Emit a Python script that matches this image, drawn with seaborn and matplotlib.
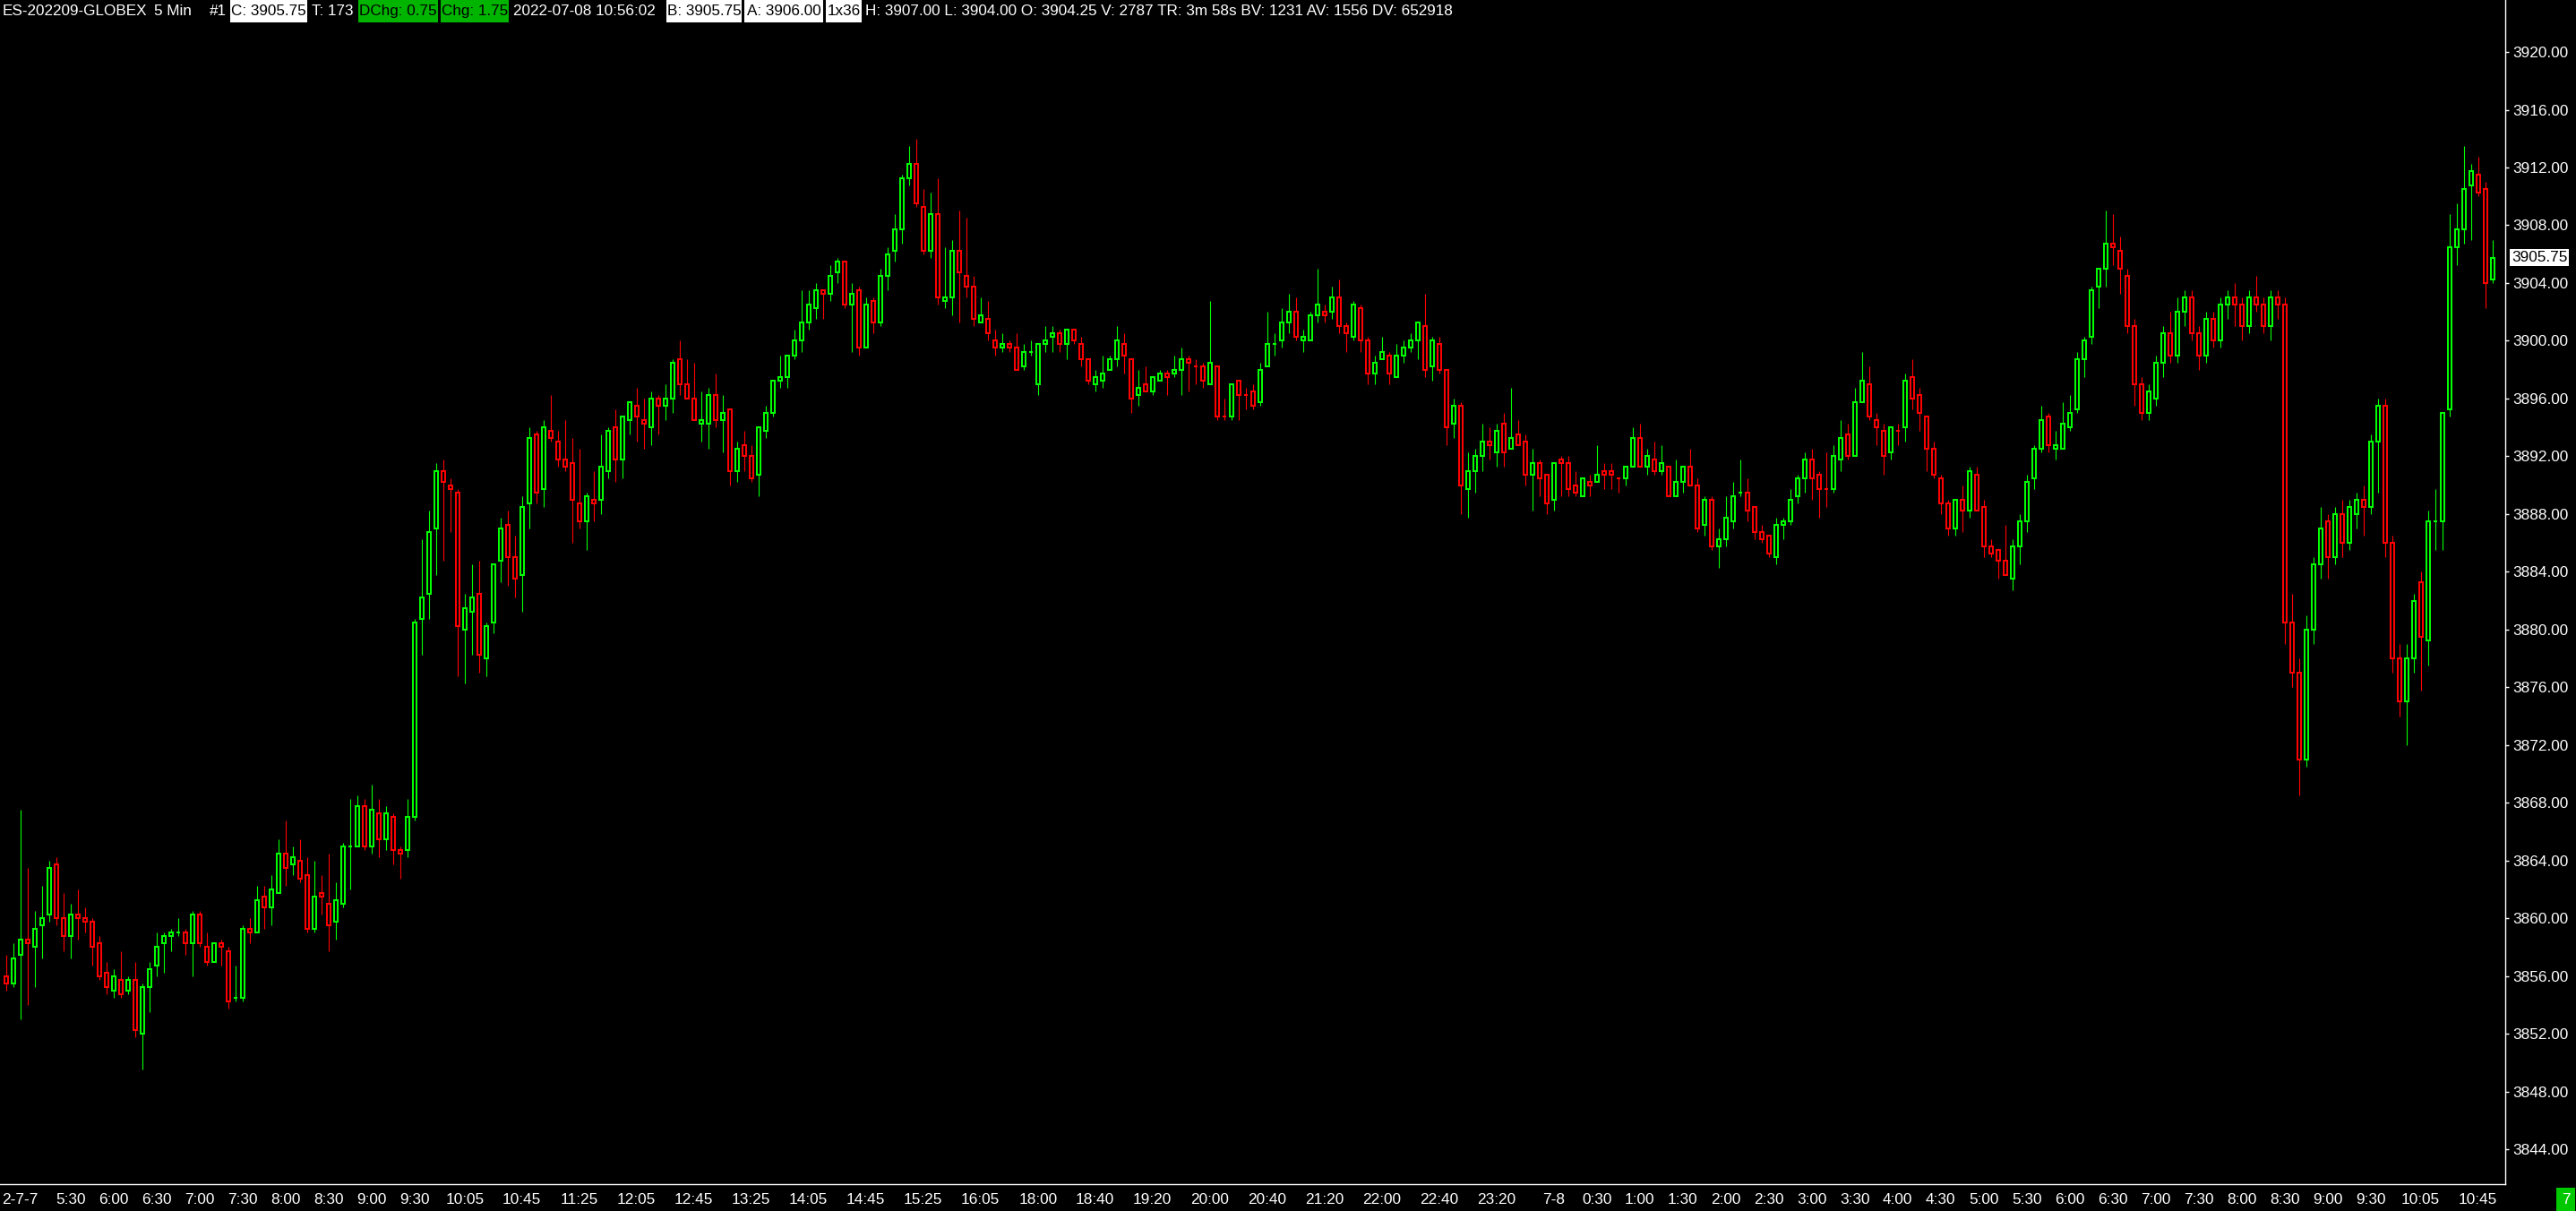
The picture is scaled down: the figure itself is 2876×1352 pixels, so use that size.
import matplotlib
matplotlib.use("Agg")
import matplotlib.pyplot as plt
import matplotlib.transforms as mtransforms
from matplotlib.patches import Rectangle
import numpy as np
import pandas as pd
import seaborn as sns

# ES 5 min bars, 2022-07-07 04:45 -> 2022-07-08 10:55
opens = [
    3856.0, 3855.5, 3857.5, 3858.5, 3858.0, 3859.5, 3860.25, 3863.75, 3860.0, 3858.75,
    3860.25, 3860.0, 3859.75, 3858.25, 3856.25, 3855.0, 3855.75, 3855.0, 3855.75, 3852.0,
    3855.25, 3856.75, 3858.25, 3858.75, 3859.0, 3859.0, 3858.25, 3860.25, 3858.0, 3857.0,
    3858.25, 3857.75, 3854.5, 3854.5, 3859.25, 3859.0, 3861.5, 3860.75, 3861.75, 3864.5,
    3863.75, 3864.0, 3863.0, 3859.25, 3861.75, 3861.0, 3859.75, 3861.0, 3865.0, 3865.0,
    3867.75, 3865.0, 3867.25, 3865.5, 3867.0, 3864.75, 3864.75, 3867.0, 3880.75, 3882.5,
    3887.0, 3891.0, 3890.0, 3889.5, 3880.0, 3881.25, 3882.5, 3878.0, 3880.5, 3884.75,
    3887.25, 3885.0, 3883.75, 3888.75, 3893.5, 3889.75, 3893.75, 3893.0, 3891.75, 3891.5,
    3888.75, 3887.5, 3889.0, 3889.0, 3891.0, 3894.0, 3891.75, 3894.5, 3895.5, 3894.5,
    3894.0, 3896.0, 3895.5, 3896.0, 3898.75, 3897.0, 3896.0, 3894.25, 3894.25, 3896.25,
    3894.5, 3895.25, 3891.0, 3892.75, 3892.0, 3890.75, 3893.75, 3895.0, 3897.25, 3897.5,
    3899.0, 3900.0, 3901.25, 3902.25, 3903.5, 3903.25, 3904.75, 3905.5, 3902.5, 3903.5,
    3899.5, 3902.75, 3901.25, 3904.5, 3906.25, 3907.75, 3911.25, 3912.25, 3909.25, 3906.25,
    3908.75, 3902.75, 3903.0, 3906.25, 3904.5, 3903.75, 3901.25, 3901.5, 3900.0, 3899.5,
    3899.75, 3899.5, 3898.25, 3899.25, 3897.0, 3899.75, 3900.25, 3900.5, 3899.75, 3900.75,
    3899.75, 3898.75, 3897.0, 3897.25, 3898.0, 3898.75, 3899.75, 3898.75, 3896.25, 3897.0,
    3896.5, 3897.25, 3897.75, 3897.75, 3898.0, 3898.75, 3898.25, 3898.25, 3897.0, 3898.25,
    3894.75, 3894.75, 3897.25, 3896.25, 3896.5, 3895.75, 3898.25, 3899.75, 3900.0, 3901.25,
    3902.0, 3900.0, 3900.0, 3901.75, 3902.0, 3902.0, 3903.0, 3901.0, 3900.25, 3902.25,
    3900.0, 3897.75, 3898.75, 3899.0, 3897.5, 3899.0, 3899.5, 3900.0, 3901.0, 3898.25,
    3899.75, 3898.0, 3894.25, 3895.5, 3889.75, 3891.0, 3892.0, 3893.0, 3892.25, 3894.25,
    3892.5, 3893.5, 3893.0, 3890.75, 3891.5, 3890.75, 3889.0, 3891.75, 3891.5, 3890.0,
    3889.25, 3890.25, 3890.25, 3891.0, 3891.0, 3890.5, 3890.5, 3891.25, 3893.25, 3891.25,
    3891.75, 3891.0, 3891.25, 3889.25, 3890.25, 3891.25, 3890.0, 3887.25, 3889.0, 3885.75,
    3886.25, 3887.5, 3889.5, 3889.5, 3888.5, 3886.75, 3886.5, 3885.0, 3887.25, 3887.5,
    3889.25, 3890.5, 3891.75, 3890.75, 3889.75, 3889.75, 3891.75, 3893.5, 3892.0, 3895.75,
    3897.0, 3894.5, 3893.75, 3892.25, 3893.75, 3894.0, 3897.5, 3896.25, 3894.75, 3892.5,
    3890.5, 3888.75, 3887.0, 3889.0, 3888.25, 3890.75, 3888.5, 3885.75, 3885.5, 3884.75,
    3883.5, 3885.75, 3887.5, 3890.5, 3892.5, 3894.75, 3892.5, 3892.5, 3894.0, 3895.25,
    3898.75, 3900.25, 3903.75, 3905.0, 3906.75, 3906.25, 3904.5, 3901.0, 3897.0, 3895.0,
    3896.0, 3898.5, 3900.5, 3899.0, 3902.0, 3903.0, 3900.5, 3899.0, 3901.5, 3900.0,
    3902.5, 3903.0, 3902.5, 3901.0, 3903.0, 3902.5, 3901.0, 3903.0, 3902.5, 3880.5,
    3877.0, 3871.0, 3880.0, 3884.5, 3887.5, 3885.0, 3888.0, 3886.0, 3888.0, 3889.0,
    3888.5, 3893.0, 3895.5, 3886.0, 3878.0, 3875.0, 3878.0, 3883.25, 3879.25, 3887.5,
    3887.5, 3895.25, 3906.5, 3907.75, 3910.75, 3911.5, 3910.5, 3904.25,
]
highs = [
    3857.5, 3858.25, 3867.5, 3863.5, 3860.5, 3862.25, 3864.0, 3864.25, 3861.75, 3861.0,
    3862.0, 3860.75, 3860.0, 3858.75, 3857.0, 3856.5, 3857.75, 3856.0, 3857.0, 3855.5,
    3857.0, 3859.0, 3859.0, 3859.25, 3860.0, 3859.25, 3860.5, 3860.5, 3859.0, 3858.25,
    3858.5, 3858.0, 3856.75, 3859.5, 3860.0, 3862.25, 3862.25, 3863.0, 3865.5, 3866.75,
    3865.0, 3865.5, 3864.25, 3864.0, 3863.0, 3864.5, 3862.5, 3865.25, 3868.25, 3868.5,
    3868.25, 3869.25, 3868.25, 3867.75, 3867.25, 3865.0, 3868.25, 3880.75, 3886.25, 3888.25,
    3891.5, 3891.75, 3890.5, 3889.75, 3882.5, 3884.5, 3884.75, 3880.5, 3884.5, 3887.75,
    3888.25, 3886.5, 3889.25, 3894.0, 3893.75, 3894.5, 3896.25, 3893.75, 3894.5, 3893.25,
    3892.5, 3889.5, 3891.0, 3893.5, 3894.0, 3895.25, 3894.75, 3895.75, 3896.75, 3896.0,
    3896.5, 3896.25, 3897.0, 3898.75, 3900.0, 3898.75, 3898.5, 3896.5, 3896.75, 3897.75,
    3896.25, 3895.25, 3893.0, 3893.75, 3892.75, 3894.0, 3895.5, 3897.25, 3899.0, 3899.0,
    3900.75, 3903.5, 3903.5, 3904.0, 3903.5, 3905.25, 3905.75, 3905.5, 3904.0, 3903.75,
    3903.0, 3903.0, 3905.0, 3906.5, 3908.75, 3911.5, 3913.5, 3914.0, 3910.5, 3910.25,
    3911.25, 3906.5, 3907.0, 3909.0, 3908.5, 3904.5, 3903.0, 3902.75, 3900.75, 3900.5,
    3900.0, 3900.5, 3899.75, 3900.0, 3899.75, 3901.0, 3901.0, 3900.75, 3900.75, 3900.75,
    3900.25, 3898.75, 3898.0, 3899.0, 3899.0, 3901.0, 3900.5, 3898.75, 3898.0, 3898.25,
    3897.5, 3898.0, 3898.0, 3899.0, 3899.5, 3899.0, 3898.75, 3898.5, 3902.75, 3898.25,
    3896.0, 3897.0, 3897.25, 3896.75, 3897.0, 3898.5, 3902.0, 3900.5, 3902.25, 3903.25,
    3903.0, 3900.75, 3902.0, 3905.0, 3902.5, 3903.75, 3904.25, 3901.25, 3902.75, 3902.5,
    3900.25, 3899.0, 3900.25, 3899.25, 3899.75, 3900.0, 3900.5, 3901.25, 3903.25, 3900.25,
    3900.25, 3898.0, 3896.0, 3895.75, 3892.25, 3892.5, 3894.25, 3894.0, 3894.25, 3895.0,
    3896.75, 3894.5, 3893.5, 3892.5, 3891.75, 3890.75, 3891.5, 3892.0, 3892.0, 3891.0,
    3890.5, 3890.75, 3892.75, 3891.5, 3891.5, 3890.5, 3891.25, 3894.0, 3894.25, 3892.5,
    3893.0, 3892.75, 3891.25, 3891.75, 3891.25, 3892.5, 3890.5, 3889.25, 3889.25, 3887.0,
    3889.25, 3890.25, 3891.75, 3890.5, 3888.5, 3887.25, 3886.5, 3887.75, 3887.75, 3889.75,
    3890.75, 3892.25, 3892.5, 3891.0, 3892.25, 3892.75, 3894.5, 3894.25, 3896.75, 3899.25,
    3898.25, 3895.0, 3894.25, 3894.0, 3894.25, 3897.75, 3898.75, 3896.75, 3894.75, 3893.0,
    3890.75, 3889.0, 3889.0, 3890.0, 3891.25, 3891.25, 3889.0, 3886.25, 3885.5, 3887.25,
    3886.25, 3888.0, 3890.75, 3892.75, 3895.5, 3895.0, 3893.75, 3895.75, 3896.25, 3899.25,
    3900.25, 3903.75, 3905.0, 3909.0, 3908.75, 3907.25, 3905.0, 3901.5, 3897.5, 3897.0,
    3899.0, 3901.0, 3902.0, 3903.0, 3903.5, 3903.5, 3901.0, 3902.0, 3902.0, 3903.0,
    3903.5, 3904.0, 3903.0, 3903.5, 3904.5, 3903.0, 3903.5, 3903.5, 3903.0, 3882.5,
    3878.0, 3881.0, 3885.0, 3888.5, 3888.0, 3888.5, 3889.0, 3889.0, 3889.5, 3890.0,
    3893.5, 3896.0, 3896.0, 3886.5, 3879.0, 3879.0, 3882.5, 3884.0, 3888.25, 3889.75,
    3895.0, 3908.75, 3909.5, 3913.5, 3912.25, 3912.75, 3911.0, 3907.0,
]
lows = [
    3855.0, 3855.25, 3853.0, 3854.0, 3855.25, 3857.25, 3859.75, 3859.5, 3857.75, 3857.25,
    3858.5, 3859.0, 3856.75, 3855.75, 3854.75, 3854.5, 3854.5, 3854.75, 3851.75, 3849.5,
    3853.5, 3856.0, 3856.25, 3857.75, 3858.75, 3857.5, 3856.0, 3858.0, 3856.75, 3857.0,
    3856.75, 3853.75, 3854.25, 3854.25, 3858.25, 3859.0, 3859.25, 3859.5, 3861.75, 3862.25,
    3863.0, 3862.5, 3859.0, 3859.0, 3860.25, 3857.75, 3858.5, 3860.75, 3862.0, 3865.0,
    3864.75, 3864.5, 3864.25, 3864.75, 3863.75, 3862.75, 3864.25, 3866.75, 3878.25, 3880.75,
    3883.75, 3884.75, 3886.75, 3876.75, 3876.25, 3878.25, 3877.0, 3876.75, 3879.75, 3883.25,
    3883.0, 3882.25, 3881.25, 3887.0, 3888.75, 3888.5, 3893.0, 3891.25, 3891.0, 3886.0,
    3887.0, 3885.5, 3887.5, 3888.0, 3890.5, 3890.25, 3890.5, 3893.5, 3893.0, 3892.5,
    3892.75, 3893.5, 3894.5, 3895.0, 3896.25, 3896.0, 3894.5, 3893.0, 3892.5, 3894.0,
    3892.25, 3890.0, 3890.25, 3891.0, 3890.25, 3889.25, 3893.25, 3894.75, 3896.75, 3896.75,
    3898.75, 3899.25, 3900.75, 3901.5, 3901.5, 3902.75, 3904.0, 3902.25, 3899.25, 3899.0,
    3899.5, 3900.5, 3901.0, 3903.5, 3905.5, 3906.75, 3910.75, 3909.25, 3906.0, 3905.75,
    3902.5, 3902.25, 3901.75, 3901.25, 3903.0, 3901.0, 3901.25, 3900.0, 3899.0, 3899.25,
    3899.25, 3898.0, 3898.0, 3899.0, 3896.25, 3899.25, 3899.25, 3899.25, 3898.75, 3899.75,
    3898.25, 3897.0, 3896.5, 3896.75, 3898.0, 3898.25, 3897.75, 3895.0, 3895.5, 3896.5,
    3896.25, 3897.25, 3896.25, 3897.5, 3896.25, 3896.5, 3897.0, 3896.75, 3897.0, 3894.5,
    3894.5, 3894.5, 3894.5, 3895.25, 3895.25, 3895.5, 3898.25, 3899.0, 3899.5, 3900.5,
    3900.0, 3899.25, 3900.0, 3901.25, 3901.25, 3901.5, 3900.5, 3899.25, 3900.0, 3899.25,
    3897.0, 3897.0, 3898.75, 3897.0, 3897.5, 3898.5, 3899.25, 3898.75, 3897.5, 3897.25,
    3897.75, 3892.75, 3893.25, 3888.0, 3887.75, 3889.5, 3891.0, 3891.75, 3891.25, 3891.25,
    3892.5, 3892.75, 3890.0, 3888.25, 3889.25, 3888.0, 3888.25, 3889.25, 3889.25, 3889.25,
    3889.25, 3889.25, 3890.25, 3889.75, 3889.75, 3889.5, 3890.0, 3891.25, 3891.25, 3890.75,
    3890.75, 3890.75, 3889.25, 3889.25, 3889.5, 3890.0, 3886.75, 3886.5, 3885.5, 3884.25,
    3885.75, 3887.0, 3889.25, 3887.5, 3886.25, 3886.0, 3885.0, 3884.5, 3886.25, 3887.25,
    3888.75, 3889.5, 3889.0, 3887.75, 3888.5, 3889.5, 3891.0, 3891.75, 3892.0, 3895.75,
    3894.5, 3892.75, 3890.75, 3891.75, 3892.75, 3893.0, 3895.25, 3893.75, 3891.0, 3890.5,
    3888.0, 3886.5, 3886.5, 3886.75, 3887.75, 3888.25, 3885.0, 3885.0, 3883.5, 3883.75,
    3882.75, 3884.5, 3886.75, 3889.75, 3892.25, 3892.25, 3891.75, 3892.5, 3893.75, 3895.0,
    3897.5, 3899.75, 3902.25, 3903.75, 3905.25, 3903.25, 3900.5, 3895.5, 3894.5, 3894.5,
    3895.5, 3897.5, 3898.5, 3898.5, 3901.0, 3900.0, 3898.0, 3898.5, 3899.5, 3899.5,
    3901.5, 3901.0, 3900.0, 3900.5, 3902.0, 3900.5, 3900.0, 3901.5, 3879.0, 3876.0,
    3868.5, 3870.5, 3879.0, 3883.5, 3883.5, 3884.5, 3885.0, 3885.5, 3887.0, 3886.5,
    3888.0, 3889.5, 3885.0, 3877.0, 3874.0, 3872.0, 3877.0, 3875.75, 3877.5, 3885.5,
    3885.5, 3894.75, 3905.25, 3906.75, 3907.0, 3910.0, 3902.25, 3904.0,
]
closes = [
    3855.5, 3857.25, 3858.5, 3858.25, 3859.25, 3860.0, 3863.5, 3860.0, 3858.75, 3860.25,
    3860.0, 3859.75, 3858.0, 3856.0, 3855.25, 3856.0, 3854.75, 3855.75, 3852.25, 3855.25,
    3856.5, 3858.0, 3858.75, 3859.0, 3859.0, 3858.25, 3860.25, 3858.25, 3857.0, 3858.25,
    3858.0, 3854.25, 3854.5, 3859.25, 3859.0, 3861.25, 3860.75, 3862.0, 3864.5, 3863.5,
    3864.25, 3862.75, 3859.25, 3861.5, 3861.5, 3859.5, 3861.25, 3865.0, 3865.0, 3867.75,
    3865.0, 3867.5, 3865.5, 3867.25, 3864.75, 3864.5, 3867.0, 3880.5, 3882.25, 3886.75,
    3891.0, 3890.25, 3889.75, 3880.25, 3881.5, 3882.25, 3878.25, 3880.25, 3884.5, 3887.0,
    3885.0, 3883.5, 3888.5, 3893.25, 3889.5, 3894.0, 3893.25, 3891.75, 3891.25, 3889.0,
    3887.5, 3889.25, 3888.75, 3891.25, 3893.75, 3891.75, 3894.75, 3895.75, 3894.75, 3894.25,
    3896.0, 3895.5, 3896.0, 3898.5, 3897.0, 3896.0, 3894.5, 3894.5, 3896.25, 3894.5,
    3895.0, 3891.0, 3892.5, 3892.0, 3890.5, 3894.0, 3895.0, 3897.25, 3897.5, 3899.0,
    3900.0, 3901.25, 3902.5, 3903.5, 3903.25, 3904.5, 3905.5, 3902.5, 3903.25, 3899.5,
    3902.5, 3901.25, 3904.5, 3906.0, 3907.75, 3911.25, 3912.25, 3909.5, 3906.25, 3908.75,
    3903.0, 3903.0, 3906.25, 3904.75, 3903.75, 3901.5, 3901.75, 3900.5, 3899.5, 3899.75,
    3899.5, 3898.0, 3899.25, 3899.25, 3899.75, 3900.0, 3900.5, 3899.75, 3900.75, 3900.0,
    3898.75, 3897.25, 3897.5, 3897.75, 3898.75, 3900.0, 3899.0, 3896.0, 3896.75, 3896.5,
    3897.5, 3897.75, 3897.5, 3898.0, 3898.75, 3898.5, 3898.25, 3897.25, 3898.5, 3894.75,
    3894.75, 3897.0, 3896.25, 3896.25, 3895.5, 3898.0, 3899.75, 3899.75, 3901.25, 3902.0,
    3900.25, 3900.25, 3901.75, 3902.5, 3901.75, 3903.0, 3901.0, 3900.5, 3902.5, 3900.0,
    3897.75, 3898.5, 3899.25, 3897.75, 3899.0, 3899.5, 3900.0, 3901.25, 3898.0, 3900.0,
    3898.0, 3894.0, 3895.5, 3890.0, 3891.0, 3892.0, 3893.0, 3892.75, 3893.75, 3892.25,
    3893.25, 3892.75, 3890.75, 3891.5, 3890.5, 3888.75, 3891.5, 3891.5, 3889.75, 3889.5,
    3890.5, 3890.0, 3890.75, 3890.75, 3890.75, 3890.5, 3891.25, 3893.25, 3891.25, 3892.0,
    3891.0, 3891.5, 3889.25, 3890.25, 3891.25, 3890.0, 3887.0, 3889.0, 3885.75, 3886.25,
    3887.75, 3889.25, 3889.5, 3888.25, 3886.75, 3886.25, 3885.25, 3887.25, 3887.5, 3889.0,
    3890.5, 3891.75, 3890.5, 3889.75, 3889.75, 3892.0, 3893.25, 3892.0, 3895.75, 3897.25,
    3894.75, 3894.0, 3892.0, 3894.0, 3893.75, 3897.25, 3896.0, 3895.0, 3892.5, 3890.75,
    3888.75, 3887.0, 3889.0, 3888.25, 3891.0, 3888.25, 3885.75, 3885.25, 3884.75, 3883.75,
    3885.75, 3887.5, 3890.25, 3892.5, 3894.5, 3892.75, 3892.75, 3894.25, 3895.0, 3898.75,
    3900.0, 3903.5, 3905.0, 3906.75, 3906.5, 3905.0, 3901.0, 3897.0, 3895.0, 3896.5,
    3898.5, 3900.5, 3899.0, 3902.0, 3903.0, 3900.5, 3899.0, 3901.5, 3900.0, 3902.5,
    3903.0, 3902.5, 3901.0, 3903.0, 3902.5, 3901.0, 3903.0, 3902.5, 3880.5, 3877.0,
    3871.0, 3880.0, 3884.5, 3887.0, 3885.0, 3888.0, 3886.0, 3888.5, 3889.0, 3888.5,
    3893.0, 3895.5, 3886.0, 3878.0, 3875.0, 3878.0, 3882.0, 3879.5, 3887.5, 3887.5,
    3895.0, 3906.5, 3907.75, 3910.5, 3911.75, 3910.25, 3904.0, 3905.75,
]

tick_bars = [0, 9, 15, 21, 27, 33, 39, 45, 51, 57, 64, 72, 80, 88, 96, 104, 112, 120,
             128, 136, 144, 152, 160, 168, 176, 184, 192, 200, 208, 216, 222, 228, 234,
             240, 246, 252, 258, 264, 270, 276, 282, 288, 294, 300, 306, 312, 318, 324,
             330, 337, 345]
tick_labels = ['2-7-7', '5:30', '6:00', '6:30', '7:00', '7:30', '8:00', '8:30', '9:00',
               '9:30', '10:05', '10:45', '11:25', '12:05', '12:45', '13:25', '14:05',
               '14:45', '15:25', '16:05', '18:00', '18:40', '19:20', '20:00', '20:40',
               '21:20', '22:00', '22:40', '23:20', '7-8', '0:30', '1:00', '1:30', '2:00',
               '2:30', '3:00', '3:30', '4:00', '4:30', '5:00', '5:30', '6:00', '6:30',
               '7:00', '7:30', '8:00', '8:30', '9:00', '9:30', '10:05', '10:45']
price_ticks = [3844, 3848, 3852, 3856, 3860, 3864, 3868, 3872, 3876, 3880,
               3884, 3888, 3892, 3896, 3900, 3904, 3908, 3912, 3916, 3920]
last_price = 3905.75

# header strip: (text, left px, box right px or None, box colour, text colour)
header = [
    ('ES-202209-GLOBEX', 3, None, None, 'white'),
    ('5 Min', 172, None, None, 'white'),
    ('#1', 234, None, None, 'white'),
    ('C: 3905.75', 257, 343, 'white', 'black'),
    ('T: 173', 348, None, None, 'white'),
    ('DChg: 0.75', 400, 489, '#00b400', 'black'),
    ('Chg: 1.75', 492, 568, '#00b400', 'black'),
    ('2022-07-08 10:56:02', 573, None, None, 'white'),
    ('B: 3905.75', 744, 828, 'white', 'black'),
    ('A: 3906.00', 831, 919, 'white', 'black'),
    ('1x36', 922, 962, 'white', 'black'),
    ('H: 3907.00 L: 3904.00 O: 3904.25 V: 2787 TR: 3m 58s BV: 1231 AV: 1556 DV: 652918',
     966, None, None, 'white'),
]

UP = '#00ff00'
DOWN = '#ff0000'

df = pd.DataFrame({'open': opens, 'high': highs, 'low': lows, 'close': closes})
df['bar'] = np.arange(len(df))
colors = []
for i, r in df.iterrows():
    if r['close'] > r['open']:
        c = UP
    elif r['close'] < r['open']:
        c = DOWN
    elif i > 0 and r['close'] > df['close'][i - 1]:
        c = UP
    elif i > 0 and r['close'] < df['close'][i - 1]:
        c = DOWN
    else:
        c = colors[-1] if colors else UP
    colors.append(c)
df['color'] = colors

sns.set_theme(style='dark', rc={
    'axes.facecolor': 'black', 'figure.facecolor': 'black',
    'axes.edgecolor': 'white', 'axes.grid': False,
    'xtick.color': 'white', 'ytick.color': 'white',
    'text.color': 'white',
})
FONT = ['Liberation Sans', 'DejaVu Sans']
plt.rcParams['font.family'] = FONT

W, H = 2876, 1352
fig = plt.figure(figsize=(W / 100, H / 100), dpi=100)
ax = fig.add_axes([0, 30 / H, 2797 / W, 1322 / H])

ax.vlines(df['bar'], df['low'], df['high'], colors=df['color'], linewidth=0.8, zorder=2)
ax.bar(df['bar'], df['close'] - df['open'], bottom=df['open'], width=0.5,
       color='black', edgecolor=df['color'], linewidth=1.45, zorder=3)

ax.set_xlim(-0.84, 348.79)
ax.set_ylim(3841.59, 3923.6)

for side in ['left', 'top']:
    ax.spines[side].set_visible(False)
for side in ['right', 'bottom']:
    ax.spines[side].set_color('white')
    ax.spines[side].set_linewidth(1.0)

ax.yaxis.tick_right()
ax.set_yticks(price_ticks)
ax.set_yticklabels([f'{p:.2f}' for p in price_ticks], fontsize=12.4)
ax.set_xticks(tick_bars)
ax.set_xticklabels(tick_labels, fontsize=12.4)
ax.tick_params(axis='both', colors='white', length=3, width=1.0, direction='out')
ax.tick_params(axis='y', pad=3)
ax.tick_params(axis='x', pad=4)

# the first (date) label sits flush with the left edge
first = ax.get_xticklabels()[0]
first.set_ha('left')
first.set_transform(first.get_transform() +
                    mtransforms.ScaledTranslation(-5 / 100, 0, fig.dpi_scale_trans))

tr = mtransforms.blended_transform_factory(ax.transAxes, ax.transData)
ax.text(1 + 7 / 2797, last_price, f'{last_price:.2f}', transform=tr, ha='left',
        va='center', color='black', fontsize=12.4,
        bbox=dict(facecolor='white', edgecolor='none', boxstyle='square,pad=0.12'),
        zorder=5)

for text, x0, x1, box, tc in header:
    if box is not None:
        fig.add_artist(Rectangle((x0 / W, 1 - 25 / H), (x1 - x0) / W, 25 / H,
                                 transform=fig.transFigure, facecolor=box,
                                 edgecolor='none', zorder=4))
        fig.text((x0 + x1) / 2 / W, 1 - 12.5 / H, text, ha='center', va='center',
                 color=tc, fontsize=12.3, zorder=5)
    else:
        fig.text(x0 / W, 1 - 12.5 / H, text, ha='left', va='center', color=tc,
                 fontsize=12.3, zorder=5)

fig.add_artist(Rectangle((2854 / W, 0), 21 / W, 26 / H, transform=fig.transFigure,
                         facecolor='#00c800', edgecolor='none'))
fig.text(2864.5 / W, 13 / H, '7', ha='center', va='center', color='white', fontsize=12.4)

fig.savefig('out.png', dpi=100, facecolor='black')
